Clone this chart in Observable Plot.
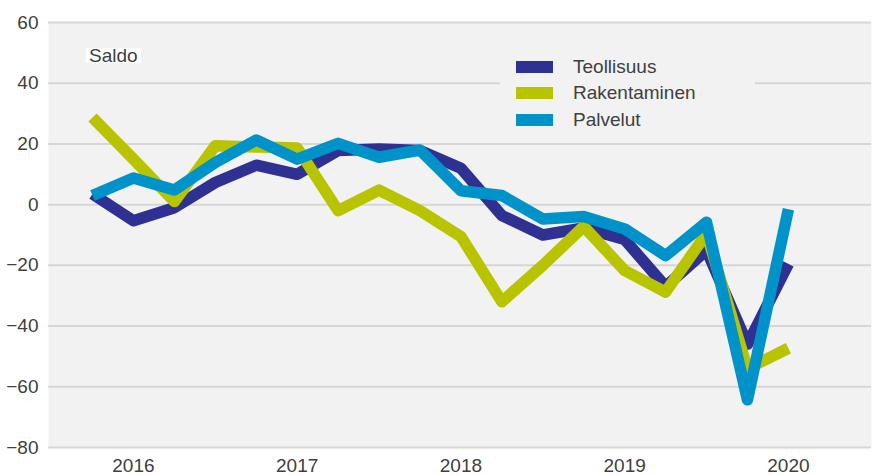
<!DOCTYPE html>
<html>
<head>
<meta charset="utf-8">
<script src="https://cdn.jsdelivr.net/npm/d3@7"></script>
<script src="https://cdn.jsdelivr.net/npm/@observablehq/plot@0.6"></script>
<style>
  body { margin: 0; background: #fff; font-family: "Liberation Sans", Arial, sans-serif; }
  #wrap { position: relative; width: 874px; height: 475px; color: #404040; }
  #wrap svg { position: absolute; left: 0; top: 0; }
  .ov { position: absolute; font-size: 19px; white-space: nowrap; }
</style>
</head>
<body>
<div id="wrap"></div>
<script>
const periods = ["2016Q2","2016Q3","2016Q4","2017Q1","2017Q2","2017Q3","2017Q4","2018Q1","2018Q2",
                 "2018Q3","2018Q4","2019Q1","2019Q2","2019Q3","2019Q4","2020Q1","2020Q2","2020Q3"];
const years = ["2016","2017","2018","2019","2020"];
const yTicks = [-80, -60, -40, -20, 0, 20, 40, 60];
const seriesNames = ["Teollisuus", "Rakentaminen", "Palvelut"];
const seriesColors = ["#2e3192", "#b9c400", "#0093c9"];
const teollisuus   = [3.5, -5.3, -1, 7.3, 13, 10, 17.8, 18.3, 17.8, 12, -3.6, -10, -7.7, -11.5, -27, -15, -46, -19.5];
const rakentaminen = [28.7, 15, 1, 19.4, 19, 18.7, -2, 4.8, -2, -10.5, -32, -20, -7.2, -21.7, -28.8, -9.5, -54, -47.3];
const palvelut     = [3, 8.8, 4.8, 13.9, 21.3, 15, 20.2, 15.6, 18, 4.6, 3, -4.7, -3.9, -8, -16.8, -5.8, -64.3, -1.5];

const values = [teollisuus, rakentaminen, palvelut];
const data = [];
seriesNames.forEach((s, k) => values[k].forEach((v, i) => data.push({series: s, i, v})));
const tickIdx = years.map(y => periods.indexOf(y + "Q3"));

const chart = Plot.plot({
  width: 874,
  height: 475,
  marginLeft: 48,
  marginRight: 3,
  marginTop: 22,
  marginBottom: 28,
  style: {fontFamily: '"Liberation Sans", Arial, sans-serif', color: "#404040", background: "transparent"},
  x: {domain: [-1.075, 19.03], axis: null},
  y: {domain: [-80, 60], axis: null},
  color: {domain: seriesNames, range: seriesColors},
  marks: [
    Plot.frame({fill: "#f2f2f2", stroke: null}),
    Plot.ruleY(yTicks, {stroke: "#d6d6d6", strokeWidth: 2}),
    Plot.axisY({ticks: yTicks, tickSize: 0, tickPadding: 10, fontSize: 19, label: null}),
    Plot.axisX({ticks: tickIdx, tickFormat: (d) => years[tickIdx.indexOf(d)], tickSize: 0, tickPadding: 10.5, fontSize: 19, label: null}),
    Plot.line(data, {x: "i", y: "v", z: "series", stroke: "series", strokeWidth: 11.5,
                     strokeLinecap: "butt", strokeLinejoin: "round"})
  ]
});

const wrap = document.getElementById("wrap");
wrap.appendChild(chart);

// "Saldo" label
const saldo = document.createElement("div");
saldo.className = "ov";
saldo.textContent = "Saldo";
Object.assign(saldo.style, {left: "86px", top: "48px", lineHeight: "15px", background: "#fff", padding: "0 3px"});
wrap.appendChild(saldo);

// Legend
const box = document.createElement("div");
Object.assign(box.style, {position: "absolute", left: "500px", top: "50px", width: "255px", height: "90px", background: "#f2f2f2"});
wrap.appendChild(box);
seriesNames.forEach((s, k) => {
  const c = 66.7 + 26.5 * k;
  const sw = document.createElement("div");
  Object.assign(sw.style, {position: "absolute", left: "516px", top: (c - 6) + "px", width: "37px", height: "12px", background: seriesColors[k]});
  wrap.appendChild(sw);
  const t = document.createElement("div");
  t.className = "ov";
  t.textContent = s;
  Object.assign(t.style, {left: "573px", top: (c - 13) + "px", height: "26px", lineHeight: "26px"});
  wrap.appendChild(t);
});
</script>
</body>
</html>
